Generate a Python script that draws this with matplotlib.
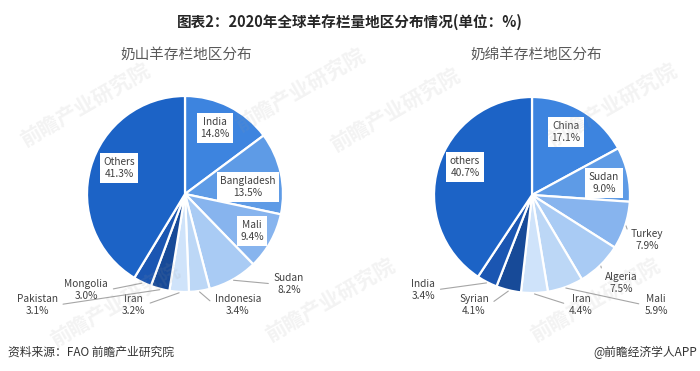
import matplotlib
matplotlib.use("Agg")
from matplotlib import pyplot as plt
import numpy as np

plt.rcParams['font.family'] = ['Noto Sans CJK SC', 'DejaVu Sans']

# 奶山羊 (dairy goats)
goat_names = ["India", "Bangladesh", "Mali", "Sudan", "Indonesia", "Iran", "Pakistan", "Mongolia", "Others"]
goat_share = [14.8, 13.5, 9.4, 8.2, 3.4, 3.2, 3.1, 3.0, 41.3]

# 奶绵羊 (dairy sheep)
sheep_names = ["China", "Sudan", "Turkey", "Algeria", "Mali", "Iran", "Syrian", "India", "others"]
sheep_share = [17.1, 9.0, 7.9, 7.5, 5.9, 4.4, 4.1, 3.4, 40.7]

colors = ["#3d84df", "#5e9be6", "#87b4ee", "#a9cbf4", "#bcd7f6", "#cfe3fa",
          "#174a98", "#1b56b2", "#1c63c6"]

title = "图表2：2020年全球羊存栏量地区分布情况(单位：%)"
subtitles = ["奶山羊存栏地区分布", "奶绵羊存栏地区分布"]
source = "资料来源：FAO 前瞻产业研究院"
brand = "@前瞻经济学人APP"
watermark = "前瞻产业研究院"

W, H = 700, 371
R = 0.98

# label placement (relative to pie centre, 1 unit = 100 px), boxed = inside slice
goat_pos = [(0.30, 0.66), (0.63, 0.07), (0.67, -0.37), (1.04, -0.90), (0.53, -1.11),
            (-0.52, -1.11), (-1.48, -1.11), (-0.99, -0.96), (-0.66, 0.26)]
goat_box = [True, True, True, False, False, False, False, False, True]
sheep_pos = [(0.34, 0.63), (0.72, 0.12), (1.15, -0.45), (0.89, -0.88), (1.24, -1.10),
             (0.49, -1.10), (-0.58, -1.10), (-1.09, -0.95), (-0.67, 0.28)]
sheep_box = [True, True, False, False, False, False, False, False, True]


def draw_pie(cx, cy, names, share, pos, boxed):
    ax = plt.gcf().add_axes([(cx - 170) / W, 1 - (cy + 170) / H, 340 / W, 340 / H])
    ax.pie(share, colors=colors, startangle=90, counterclock=False, radius=R,
           wedgeprops=dict(edgecolor="white", linewidth=1.6))
    ax.set_xlim(-1.7, 1.7)
    ax.set_ylim(-1.7, 1.7)
    ax.set_aspect("equal")
    ax.axis("off")
    cum = np.cumsum([0] + share)
    tot = cum[-1]
    for i, name in enumerate(names):
        txt = "%s\n%.1f%%" % (name, share[i])
        x, y = pos[i]
        if boxed[i]:
            ax.text(x, y, txt, ha="center", va="center", fontsize=7.3, color="#404040",
                    linespacing=1.35,
                    bbox=dict(facecolor="white", edgecolor="none", pad=2.5))
        else:
            mid = 90 - 360 * (cum[i] + share[i] / 2) / tot
            ex = R * np.cos(np.radians(mid))
            ey = R * np.sin(np.radians(mid))
            rel = (0, 0.5) if x > ex else (1, 0.5)
            ax.annotate(txt, xy=(ex * 1.01, ey * 1.01), xytext=(x, y), ha="center",
                        va="center", fontsize=7.3, color="#404040", linespacing=1.35,
                        arrowprops=dict(arrowstyle="-", color="#a6a6a6", lw=0.8,
                                        relpos=rel, shrinkA=2, shrinkB=0))
    return ax


fig = plt.figure(figsize=(W / 100, H / 100), dpi=100)

# faint diagonal watermarks
for wx, wy in [(85, 105), (300, 90), (115, 305), (395, 110), (612, 105), (595, 300), (330, 300)]:
    fig.text(wx / W, 1 - wy / H, watermark, ha="center", va="center", fontsize=15,
             fontweight="bold", color="#9a9a9a", alpha=0.12, rotation=30, zorder=10)

fig.text(350 / W, 1 - 22 / H, title, ha="center", va="center", fontsize=10.5,
         fontweight="bold", color="#262626")
fig.text(186 / W, 1 - 55 / H, subtitles[0], ha="center", va="center", fontsize=10.5,
         color="#595959")
fig.text(536 / W, 1 - 55 / H, subtitles[1], ha="center", va="center", fontsize=10.5,
         color="#595959")

draw_pie(185, 194, goat_names, goat_share, goat_pos, goat_box)
draw_pie(532, 195, sheep_names, sheep_share, sheep_pos, sheep_box)

fig.text(8 / W, 1 - 352 / H, source, ha="left", va="center", fontsize=8.5, color="#333333")
fig.text(697 / W, 1 - 352 / H, brand, ha="right", va="center", fontsize=8.5, color="#333333")

fig.savefig("out.png", dpi=100)
plt.close()
